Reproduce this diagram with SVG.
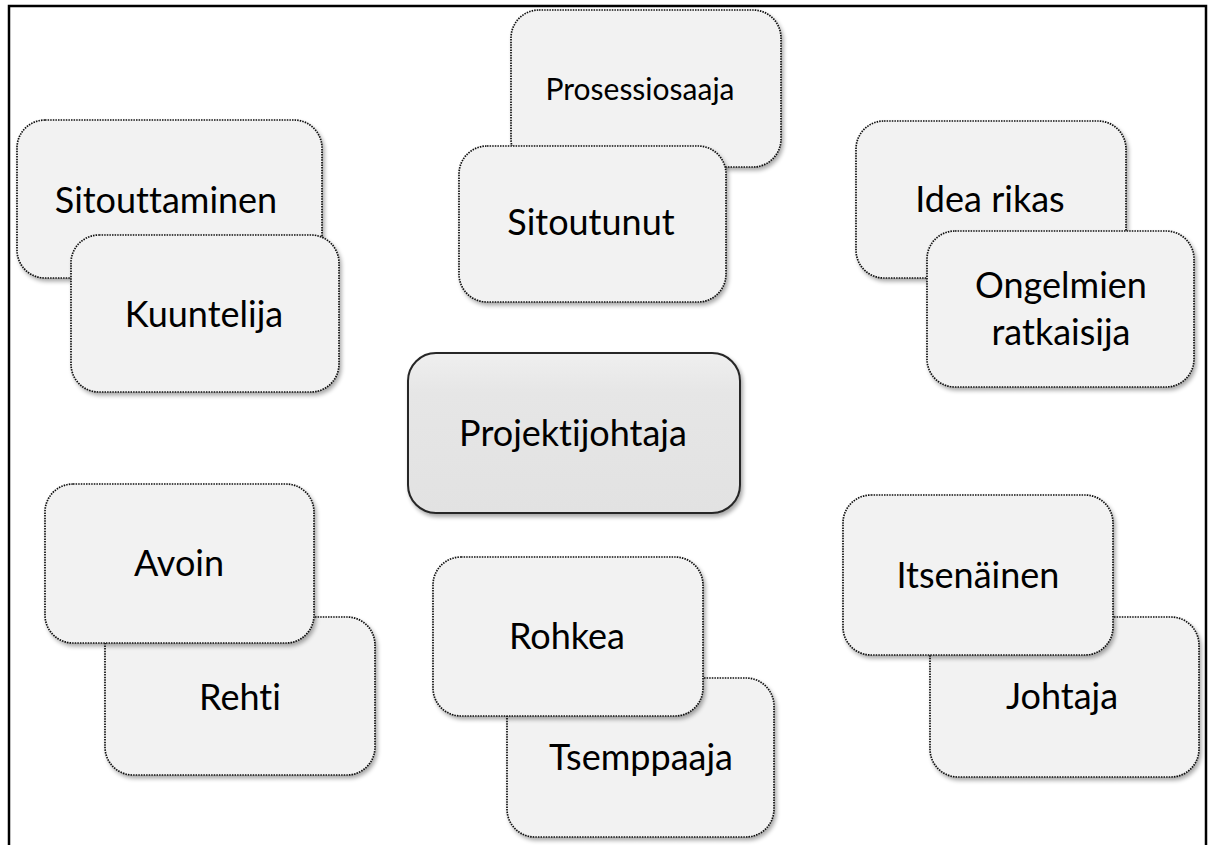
<svg xmlns="http://www.w3.org/2000/svg" width="1213" height="845" viewBox="0 0 1213 845">
  <defs>
    <filter id="shadow" x="-10%" y="-10%" width="125%" height="130%">
      <feGaussianBlur in="SourceAlpha" stdDeviation="2.2"/>
      <feOffset dx="1.5" dy="3" result="off"/>
      <feComponentTransfer><feFuncA type="linear" slope="0.35"/></feComponentTransfer>
      <feMerge><feMergeNode/><feMergeNode in="SourceGraphic"/></feMerge>
    </filter>
    <linearGradient id="centerFill" x1="0" y1="0" x2="0" y2="1">
      <stop offset="0" stop-color="#efefef"/>
      <stop offset="0.25" stop-color="#e6e6e6"/>
      <stop offset="1" stop-color="#e2e2e2"/>
    </linearGradient>
  </defs>
  <style>
    .card { fill: #f2f2f2; stroke: #111; stroke-width: 1.7; stroke-dasharray: 1.5 1.1; filter: url(#shadow); }
    .hub { fill: url(#centerFill); stroke: #262626; stroke-width: 2; filter: url(#shadow); }
    .lbl { font-family: Lato, "Open Sans", sans-serif; font-size: 36px; fill: #000; text-anchor: middle; font-variant-ligatures: none; font-feature-settings: "liga" 0, "clig" 0; }
    .sm { font-size: 30px; }
  </style>

  <rect x="0" y="0" width="1213" height="845" fill="#fff"/>
  <!-- outer frame: open at the bottom -->
  <path d="M9 845 V6 H1206 V845" fill="none" stroke="#000" stroke-width="2.5"/>

  <!-- top left pair -->
  <g id="sitouttaminen">
    <rect class="card" x="17" y="120" width="305" height="158" rx="28"/>
    <text class="lbl" x="166" y="213">Sitouttaminen</text>
  </g>
  <g id="kuuntelija">
    <rect class="card" x="71" y="235" width="268" height="157" rx="28"/>
    <text class="lbl" x="204" y="327">Kuuntelija</text>
  </g>

  <!-- top centre pair -->
  <g id="prosessiosaaja">
    <rect class="card" x="511" y="10" width="270" height="157" rx="28"/>
    <text class="lbl sm" x="640" y="100">Prosessiosaaja</text>
  </g>
  <g id="sitoutunut">
    <rect class="card" x="459" y="146" width="267" height="156" rx="28"/>
    <text class="lbl" x="591" y="235">Sitoutunut</text>
  </g>

  <!-- top right pair -->
  <g id="idea-rikas">
    <rect class="card" x="856" y="121" width="270" height="157" rx="28"/>
    <text class="lbl" x="990" y="212">Idea rikas</text>
  </g>
  <g id="ongelmien-ratkaisija">
    <rect class="card" x="927" y="231" width="267" height="156" rx="28"/>
    <text class="lbl" x="1061" y="298">Ongelmien</text>
    <text class="lbl" x="1061" y="345">ratkaisija</text>
  </g>

  <!-- central node -->
  <g id="projektijohtaja">
    <rect class="hub" x="408" y="353" width="332" height="160" rx="28"/>
    <text class="lbl" x="573" y="446">Projektijohtaja</text>
  </g>

  <!-- bottom left pair -->
  <g id="rehti">
    <rect class="card" x="105" y="617" width="270" height="158" rx="28"/>
    <text class="lbl" x="240" y="710">Rehti</text>
  </g>
  <g id="avoin">
    <rect class="card" x="45" y="484" width="269" height="159" rx="28"/>
    <text class="lbl" x="179" y="576">Avoin</text>
  </g>

  <!-- bottom centre pair -->
  <g id="tsemppaaja">
    <rect class="card" x="507" y="678" width="267" height="159" rx="28"/>
    <text class="lbl" x="641" y="770">Tsemppaaja</text>
  </g>
  <g id="rohkea">
    <rect class="card" x="433" y="557" width="270" height="159" rx="28"/>
    <text class="lbl" x="567" y="649">Rohkea</text>
  </g>

  <!-- bottom right pair -->
  <g id="johtaja">
    <rect class="card" x="930" y="617" width="269" height="160" rx="28"/>
    <text class="lbl" x="1062" y="709">Johtaja</text>
  </g>
  <g id="itsenainen">
    <rect class="card" x="843" y="495" width="270" height="160" rx="28"/>
    <text class="lbl" x="978" y="588">Itsenäinen</text>
  </g>
</svg>
